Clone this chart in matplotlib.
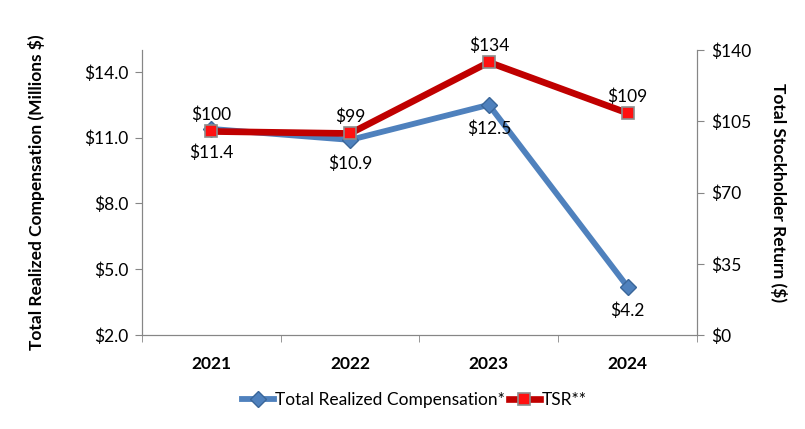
import matplotlib.pyplot as plt
from matplotlib.ticker import FuncFormatter, FixedLocator

plt.rcParams['font.family'] = ['Lato', 'DejaVu Sans']

# chart data
years = ["2021", "2022", "2023", "2024"]
trc = [11.4, 10.9, 12.5, 4.2]      # Total Realized Compensation ($M)
tsr = [100, 99, 134, 109]          # TSR ($)
left_ticks = [2.0, 5.0, 8.0, 11.0, 14.0]
right_ticks = [0, 35, 70, 105, 140]

blue = "#4F81BD"
red = "#C00000"
grey = "#868686"
fs = 12.5

fig = plt.figure(figsize=(8.05, 4.29), dpi=100)
ax = fig.add_axes([0.1764, 0.2191, 0.6894, 0.6643])
ax2 = ax.twinx()

x = list(range(len(years)))

ax.plot(x, trc, color=blue, lw=4.2, marker="D", markersize=8,
        markerfacecolor=blue, markeredgecolor="#3A6699", zorder=3,
        label="Total Realized Compensation*")
ax2.plot(x, tsr, color=red, lw=4.8, marker="s", markersize=9,
         markerfacecolor="#FF1010", markeredgecolor="#8C8C8C", markeredgewidth=1.2,
         zorder=4, label="TSR**")

ax.set_ylim(2.0, 15.0)
ax2.set_ylim(0, 140)
ax.set_xlim(-0.5, 3.5)

ax.yaxis.set_major_locator(FixedLocator(left_ticks))
ax2.yaxis.set_major_locator(FixedLocator(right_ticks))
ax.yaxis.set_major_formatter(FuncFormatter(lambda v, p: f"${v:.1f}"))
ax2.yaxis.set_major_formatter(FuncFormatter(lambda v, p: f"${v:.0f}"))

ax.set_xticks(x)
ax.set_xticklabels(years, fontweight="bold", fontsize=fs)
ax.set_xticks([-0.5, 0.5, 1.5, 2.5, 3.5], minor=True)
ax.tick_params(axis="x", which="major", length=0, pad=15)
ax.tick_params(axis="x", which="minor", length=5, color=grey, direction="out")
ax.tick_params(axis="y", length=5, color=grey, labelsize=fs, pad=5)
ax2.tick_params(axis="y", length=5, color=grey, labelsize=fs, pad=5)

for a in (ax, ax2):
    a.spines["top"].set_visible(False)
    for s in ("left", "right", "bottom"):
        a.spines[s].set_color(grey)

ax.set_ylabel("Total Realized Compensation (Millions $)", fontweight="bold", fontsize=fs, labelpad=28)
ax2.set_ylabel("Total Stockholder Return ($)", fontweight="bold", fontsize=fs,
               rotation=270, labelpad=26)

# data labels
for xi, v in zip(x, trc):
    ax.annotate(f"${v:.1f}", (xi, v), xytext=(0, -11), textcoords="offset points",
                ha="center", va="top", fontsize=fs)
for xi, v in zip(x, tsr):
    ax2.annotate(f"${v}", (xi, v), xytext=(0, 6), textcoords="offset points",
                 ha="center", va="bottom", fontsize=fs)

h1, l1 = ax.get_legend_handles_labels()
h2, l2 = ax2.get_legend_handles_labels()
fig.legend(h1 + h2, l1 + l2, loc="center", bbox_to_anchor=(0.515, 0.068), ncol=2,
           frameon=False, fontsize=fs, handlelength=1.8, columnspacing=0.2,
           handletextpad=0.1)

fig.savefig("out.png", dpi=100)
